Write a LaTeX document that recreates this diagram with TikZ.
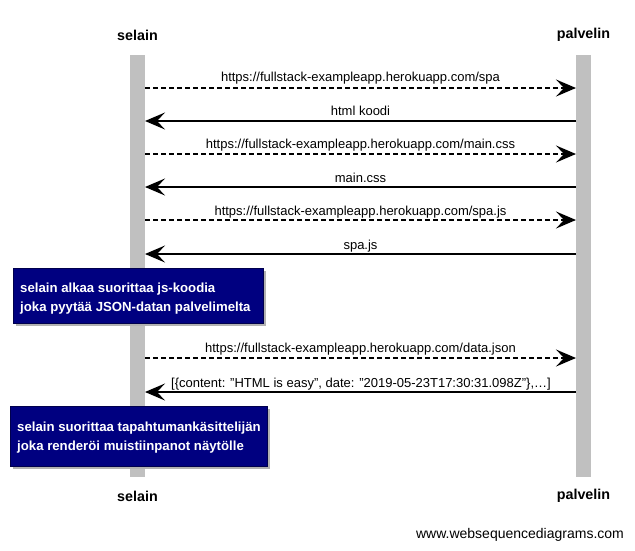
\documentclass[tikz,border=0pt]{standalone}
\usepackage{fontspec}
\setmainfont{Liberation Sans}
\usetikzlibrary{arrows.meta}
\definecolor{notebg}{HTML}{000080}
\definecolor{lifegray}{HTML}{C0C0C0}
\tikzset{
  lifeline/.style={fill=lifegray, draw=none},
  actor/.style={font=\fontsize{14.3}{16}\selectfont\bfseries, inner sep=0pt},
  msglabel/.style={font=\fontsize{13}{15}\selectfont, inner sep=0pt, anchor=base},
  req/.style={line width=1.5pt, dashed, dash pattern=on 5pt off 3pt, -{Stealth[length=20pt,width=17pt,inset=8pt]}},
  resp/.style={line width=1.5pt, -{Stealth[length=20pt,width=17pt,inset=8pt]}},
  notebox/.style={fill=notebg, draw=notebg!60!black, line width=0.5pt, anchor=north west, inner sep=0pt},
  notetext/.style={text=white, font=\fontsize{13.2}{18.5}\selectfont\bfseries, align=left, anchor=west, inner sep=0pt},
  shadowbox/.style={fill=gray!60, draw=none},
}
\begin{document}
\begin{tikzpicture}[x=1pt,y=-1pt]
\useasboundingbox (0,0) rectangle (635,550);
\fill[white] (0,0) rectangle (635,550);
% lifelines
\fill[lifeline] (130,55) rectangle (145,477);
\fill[lifeline] (576,55) rectangle (591,477);
% actors
\node[actor] (selainT) at (137.5,35) {selain};
\node[actor] (palvelinT) at (583.5,35) {palvelin};
\node[actor] (selainB) at (137.5,496) {selain};
\node[actor] (palvelinB) at (583.5,496) {palvelin};
% message endpoints
\foreach \i/\y in {1/88,2/121,3/154,4/187,5/220,6/254,7/358,8/392}{
  \coordinate (s\i) at (145,\y);
  \coordinate (p\i) at (576,\y);
}
\draw[req] (s1) -- (p1);
\node[msglabel] (l1) at (360.5,81) {https://fullstack-exampleapp.herokuapp.com/spa};
\draw[resp] (p2) -- (s2);
\node[msglabel] (l2) at (360.5,115) {html koodi};
\draw[req] (s3) -- (p3);
\node[msglabel] (l3) at (360.5,148) {https://fullstack-exampleapp.herokuapp.com/main.css};
\draw[resp] (p4) -- (s4);
\node[msglabel] (l4) at (360.5,182) {main.css};
\draw[req] (s5) -- (p5);
\node[msglabel] (l5) at (360.5,215) {https://fullstack-exampleapp.herokuapp.com/spa.js};
\draw[resp] (p6) -- (s6);
\node[msglabel] (l6) at (360.5,249) {spa.js};
% note 1
\fill[shadowbox] (16,271) rectangle (266,326);
\node[notebox, minimum width=250pt, minimum height=55pt] (n1) at (13,268) {};
\node[notetext] (t1) at ([xshift=7pt,yshift=-3pt]n1.west) {selain alkaa suorittaa js-koodia\\joka pyytää JSON-datan palvelimelta};
\draw[req] (s7) -- (p7);
\node[msglabel] (l7) at (360.5,352) {https://fullstack-exampleapp.herokuapp.com/data.json};
\draw[resp] (p8) -- (s8);
\node[msglabel] (l8) at (361,387) {[\{content: "HTML is easy", date: "2019-05-23T17:30:31.098Z"\},…]};
% note 2
\fill[shadowbox] (13,409) rectangle (270,469);
\node[notebox, minimum width=257pt, minimum height=60pt] (n2) at (10,406) {};
\node[notetext] (t2) at ([xshift=7pt,yshift=-1.5pt]n2.west) {selain suorittaa tapahtumankäsittelijän\\joka renderöi muistiinpanot näytölle};
% footer
\node[font=\fontsize{14}{16}\selectfont, inner sep=0pt] (footer) at (520,535) {www.websequencediagrams.com};
\end{tikzpicture}
\end{document}
